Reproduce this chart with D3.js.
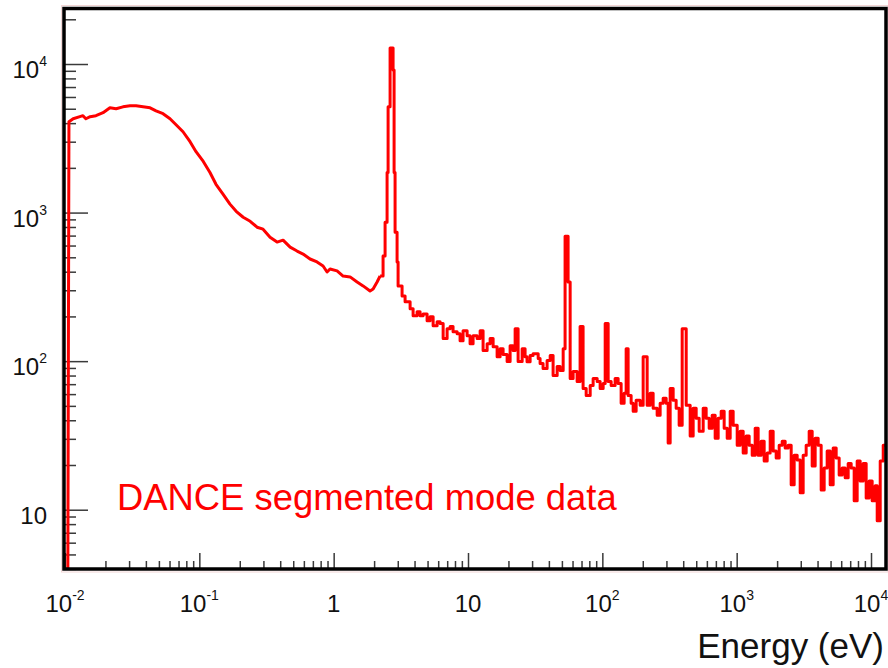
<!DOCTYPE html>
<html><head><meta charset="utf-8">
<script src="https://cdn.jsdelivr.net/npm/d3@7"></script>
<style>body{margin:0;background:#fff} svg{display:block}</style>
</head><body>
<svg id="c" width="888" height="668"></svg>
<script>
// ---- data ----
const energy = [0.0105,0.0107,0.0115,0.0129,0.0136,0.0143,0.0154,0.0170,0.0192,0.0216,0.0240,0.0270,0.0305,0.0338,0.0381,0.0430,0.0476,0.0537,0.0605,0.0671,0.0756,0.0853,0.0945,0.107,0.120,0.133,0.150,0.169,0.188,0.212,0.239,0.269,0.298,0.336,0.379,0.420,0.474,0.534,0.592,0.667,0.752,0.834,0.893,0.940,1.06,1.175,1.325,1.494,1.656,1.866,1.966,2.105,2.216,2.332,2.414,2.498,2.542,2.630,2.769,2.817,2.865,2.965,3.017,3.230,3.401,3.707,3.902,4.178,4.398,4.63,4.96,5.22,5.50,5.89,6.20,6.53,6.99,7.36,7.74,8.30,8.73,9.19,9.85,10.36,10.91,11.69,12.31,12.95,13.88,14.61,15.38,16.47,17.34,18.25,19.55,20.58,21.67,22.43,23.6,25.3,26.6,27.5,29.0,30.5,33.3,34.4,36.2,38.8,40.9,43.0,46.1,48.5,51.1,52.8,55.6,57.6,60.6,64.9,68.3,71.9,75.8,81.2,85.4,91.5,96.3,101.4,105,110.5,116.3,124.5,131.1,138,145.3,150.4,155.6,163.8,169.6,178.5,191.2,201.3,215.6,227,238.9,255.9,269.4,283.6,298.6,309,319.8,336.7,354.4,373.1,392.9,421,450.6,474.4,499.5,525.8,563.2,592.8,624.2,657.1,691.7,728.2,766.7,807,850,894.7,941.7,1009,1062,1118,1177,1239,1305,1373,1445,1522,1602,1687,1776,1869,1968,2072,2182,2296,2418,2545,2679,2821,2970,3126,3291,3465,3648,3840,4043,4256,4481,4717,4966,5228,5504,5794,6100,6422,6761,7117,7493,7888,8305,8743,9204,9692,10200,10740,11120,11710,12330,12930];
const counts = [0,4090,4280,4420,4490,4280,4420,4490,4700,5070,5000,5150,5230,5230,5150,5070,4840,4630,4280,3900,3500,3000,2570,2210,1860,1550,1330,1140,1020,930,874,797,773,683,633,652,585,551,526,487,465,437,398,417,405,374,369,341,321,297,306,341,374,510,861,1860,5150,12800,9115,1860,738,465,321,275,251,225,202,215,202,208,187,199,173,184,179,142,165,171,158,153,137,160,148,131,148,142,160,118,131,142,125,107,121,111,99.4,127,118,165,99.4,121,107,99,109,112,104,96.4,89.2,101,109,80.1,92.0,86.5,121,694,341,76.4,85.2,73.0,171,65.5,58.8,68.6,76.4,73.0,65.5,70.8,179,73.0,68.6,76.4,70.8,52.0,60.7,121,58.8,52.0,46.0,54.5,50.4,107,50.4,60.7,48.1,43.2,52.0,56.2,52.0,28.1,65.5,54.5,48.1,37.0,165,50.4,31.3,48.1,41.3,33.8,48.1,41.3,35.4,43.2,30.3,41.3,46.0,35.4,30.3,46.0,37.0,27.2,33.8,24.1,31.3,27.2,23.3,35.4,23.3,28.9,21.3,24.1,33.8,24.8,22.3,27.2,28.9,26.0,27.2,14.7,23.3,21.6,13.0,23.3,27.2,33.8,19.7,30.3,27.2,13.6,19.1,24.8,14.7,26.0,22.3,17.1,19.1,16.4,20.5,19.1,11.5,21.3,15.6,20.5,12.0,15.6,11.5,14.5,8.43,21.3,27.2,27.2];

const xMajorTicks = [0.01, 0.1, 1, 10, 100, 1000, 10000];
const xTickBase = ["10", "10", "1", "10", "10", "10", "10"];
const xTickExp  = ["-2", "-1", "", "", "2", "3", "4"];
const yMajorTicks = [10, 100, 1000, 10000];
const yTickBase = ["10", "10", "10", "10"];
const yTickExp  = ["", "2", "3", "4"];
const xDomain = [0.00983, 12930];
const yDomain = [3.99, 23640];
const smoothBelow = 2.216; // the fine-binned low-energy part is drawn as a continuous line
const annotation = "DANCE segmented mode data";
const xTitle = "Energy (eV)";

// ---- drawing ----
const FONT = "'Liberation Sans', Arial, Helvetica, sans-serif";
const svg = d3.select("#c");
const L = 64, R = 886, T = 8.5, B = 569;
const x = d3.scaleLog().domain(xDomain).range([L, R]);
const y = d3.scaleLog().domain(yDomain).range([B, T]).clamp(true);

const data = energy.map((e, i) => [e, counts[i]]);
const split = energy.findIndex(e => e >= smoothBelow);
const lowPart = data.slice(0, split + 1);
const highPart = data.slice(split);

svg.append("defs").append("clipPath").attr("id", "plot")
  .append("rect").attr("x", L).attr("y", T).attr("width", R - L).attr("height", B - T);

// faint outer edge
svg.append("rect").attr("x", 61.5).attr("y", 5.5).attr("width", 888 - 61.5).attr("height", 572 - 5.5)
  .attr("fill", "none").attr("stroke", "#f2d6d6").attr("stroke-width", 1);

const isMajor = v => Math.abs(Math.log10(v) - Math.round(Math.log10(v))) < 1e-9;
const xMinor = x.ticks().filter(v => !isMajor(v));
const yMinor = y.ticks().filter(v => !isMajor(v));

function styleAxis(g) {
  g.select(".domain").remove();
  g.selectAll("text").remove();
  g.selectAll("line").attr("stroke", "#3a3a3a").attr("stroke-width", 1.5);
}

svg.append("g").attr("transform", `translate(${L},0)`)
  .call(d3.axisLeft(y).tickValues(yMajorTicks).tickSize(-24).tickFormat(""))
  .call(styleAxis);
svg.append("g").attr("transform", `translate(${L},0)`)
  .call(d3.axisLeft(y).tickValues(yMinor).tickSize(-12).tickFormat(""))
  .call(styleAxis);
svg.append("g").attr("transform", `translate(0,${B})`)
  .call(d3.axisBottom(x).tickValues(xMajorTicks).tickSize(-16).tickFormat(""))
  .call(styleAxis);
svg.append("g").attr("transform", `translate(0,${B})`)
  .call(d3.axisBottom(x).tickValues(xMinor).tickSize(-8).tickFormat(""))
  .call(styleAxis);

// data histogram
const smoothLine = d3.line().x(d => x(d[0])).y(d => y(d[1])).curve(d3.curveLinear);
const stepLine = d3.line().x(d => x(d[0])).y(d => y(d[1])).curve(d3.curveStepAfter);
const plot = svg.append("g").attr("clip-path", "url(#plot)");
[[lowPart, smoothLine], [highPart, stepLine]].forEach(([part, gen]) => {
  plot.append("path").datum(part)
    .attr("d", gen)
    .attr("fill", "none").attr("stroke", "#ff0000").attr("stroke-width", 3)
    .attr("stroke-linejoin", "round");
});

// frame
svg.append("rect").attr("x", L).attr("y", T).attr("width", R - L).attr("height", B - T)
  .attr("fill", "none").attr("stroke", "#000").attr("stroke-width", 3.5);

// y tick labels
yMajorTicks.forEach((v, i) => {
  const t = svg.append("text").attr("x", 47).attr("y", y(v) + 14)
    .attr("text-anchor", "end").attr("font-family", FONT).attr("font-size", 24).attr("fill", "#111");
  t.append("tspan").text(yTickBase[i]);
  if (yTickExp[i]) t.append("tspan").attr("font-size", 14).attr("dy", -12).text(yTickExp[i]);
});

// x tick labels
xMajorTicks.forEach((v, i) => {
  const t = svg.append("text").attr("x", x(v)).attr("y", 612)
    .attr("text-anchor", "middle").attr("font-family", FONT).attr("font-size", 24).attr("fill", "#111");
  t.append("tspan").text(xTickBase[i]);
  if (xTickExp[i]) t.append("tspan").attr("font-size", 14).attr("dy", -12).text(xTickExp[i]);
});

// axis title
svg.append("text").attr("x", 884).attr("y", 658).attr("text-anchor", "end")
  .attr("font-family", FONT).attr("font-size", 35).attr("fill", "#111").text(xTitle);

// annotation
svg.append("text").attr("x", 117).attr("y", 510)
  .attr("font-family", FONT).attr("font-size", 36.4).attr("fill", "#ff0000").text(annotation);
</script>
</body></html>
